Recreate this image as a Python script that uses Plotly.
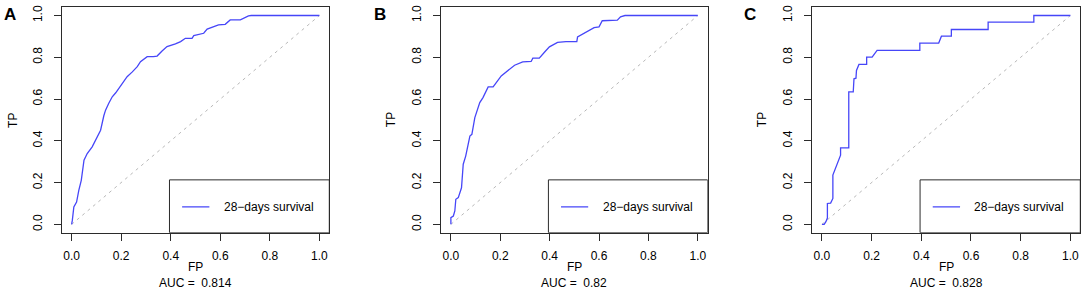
import plotly.graph_objects as go

# ---------------- data ----------------
panel_labels = ["A", "B", "C"]
auc_values = ["0.814", "0.82", "0.828"]
series_name = "28\u2212days survival"
tick_vals = [0.0, 0.2, 0.4, 0.6, 0.8, 1.0]
tick_text = ["0.0", "0.2", "0.4", "0.6", "0.8", "1.0"]

fpr_a = [0, 0.003, 0.009, 0.020, 0.029, 0.039, 0.050, 0.063, 0.083, 0.103, 0.117, 0.130,
         0.137, 0.150, 0.164, 0.178, 0.191, 0.205, 0.224, 0.245, 0.265, 0.278, 0.305, 0.330,
         0.345, 0.365, 0.385, 0.419, 0.440, 0.459, 0.486, 0.493, 0.533, 0.547, 0.570, 0.593,
         0.620, 0.627, 0.640, 0.681, 0.714, 0.725, 1.0]
tpr_a = [0, 0.02, 0.083, 0.107, 0.163, 0.211, 0.307, 0.339, 0.371, 0.419, 0.451, 0.52,
         0.547, 0.58, 0.611, 0.63, 0.651, 0.675, 0.707, 0.73, 0.755, 0.779, 0.803, 0.803,
         0.806, 0.83, 0.851, 0.864, 0.875, 0.891, 0.891, 0.904, 0.915, 0.935, 0.945, 0.955,
         0.958, 0.965, 0.979, 0.979, 0.998, 1.0, 1.0]

fpr_b = [0, 0, 0.010, 0.016, 0.020, 0.030, 0.043, 0.050, 0.060, 0.070, 0.077, 0.085, 0.097,
         0.117, 0.130, 0.151, 0.171, 0.204, 0.231, 0.258, 0.291, 0.325, 0.332, 0.358, 0.378,
         0.399, 0.432, 0.466, 0.510, 0.513, 0.580, 0.600, 0.613, 0.674, 0.687, 0.705, 1.0]
tpr_b = [0, 0.032, 0.040, 0.064, 0.120, 0.128, 0.175, 0.288, 0.327, 0.383, 0.423, 0.431, 0.511,
         0.583, 0.607, 0.658, 0.658, 0.711, 0.735, 0.762, 0.778, 0.780, 0.796, 0.796, 0.823,
         0.850, 0.871, 0.875, 0.875, 0.898, 0.942, 0.946, 0.975, 0.978, 0.994, 1.0, 1.0]

fpr_c = [0, 0.009, 0.016, 0.022, 0.022, 0.035, 0.044, 0.044, 0.075, 0.075, 0.108, 0.108,
         0.126, 0.129, 0.137, 0.139, 0.149, 0.180, 0.180, 0.202, 0.222, 0.394, 0.394, 0.470,
         0.481, 0.521, 0.521, 0.669, 0.669, 0.853, 0.853, 1.0]
tpr_c = [0, 0, 0.013, 0.030, 0.100, 0.102, 0.124, 0.236, 0.331, 0.366, 0.366, 0.634,
         0.634, 0.697, 0.700, 0.737, 0.766, 0.766, 0.801, 0.801, 0.833, 0.833, 0.868, 0.868,
         0.901, 0.901, 0.933, 0.933, 0.968, 0.968, 1.0, 1.0]

fprs = [fpr_a, fpr_b, fpr_c]
tprs = [tpr_a, tpr_b, tpr_c]

# ---------------- layout geometry (pixels) ----------------
W, H = 1084, 292
x_domains_px = [(61.7, 329.3), (441.0, 707.7), (812.0, 1080.3)]
y_domain_px = (232.3, 5.2)
letter_pos_px = [(10.3, 13.0), (380.2, 12.5), (750.3, 12.5)]
tp_x_px = [12.7, 391.0, 762.0]
axis_range = [-0.04, 1.04]
legend_box = dict(x0=0.395, x1=1.04, y0=-0.04, y1=0.213)
legend_line = dict(x0=0.446, x1=0.556, y=0.084)
legend_text_x = 0.606

CURVE = "#4646f8"
AXC = "#2b2b2b"
FONT = "Liberation Sans, Arial, Helvetica, sans-serif"

fig = go.Figure()
layout = dict(
    width=W, height=H, margin=dict(l=0, r=0, t=0, b=0),
    paper_bgcolor="white", plot_bgcolor="white", showlegend=False,
    font=dict(family=FONT, size=12, color="black"),
)
shapes = []
annotations = []

for i in range(3):
    sx = "" if i == 0 else str(i + 1)
    xa, ya = "x" + sx, "y" + sx
    # diagonal reference
    fig.add_trace(go.Scatter(x=[0, 1], y=[0, 1], mode="lines", xaxis=xa, yaxis=ya,
                             line=dict(color="#b8b8b8", width=1, dash="3px,4px"),
                             hoverinfo="skip"))
    fig.add_trace(go.Scatter(x=fprs[i], y=tprs[i], mode="lines", xaxis=xa, yaxis=ya,
                             name=series_name, line=dict(color=CURVE, width=1.3)))
    d0, d1 = x_domains_px[i]
    common = dict(range=axis_range, showgrid=False, zeroline=False, showline=True,
                  linecolor=AXC, linewidth=1, mirror=True, ticks="outside", ticklen=7,
                  tickwidth=1, tickcolor=AXC, tickvals=tick_vals, ticktext=tick_text,
                  tickfont=dict(family=FONT, size=12, color="black"), fixedrange=True)
    layout["xaxis" + sx] = dict(common, domain=[d0 / W, d1 / W], anchor=ya,
                                ticklabelstandoff=5)
    layout["yaxis" + sx] = dict(common, domain=[1 - y_domain_px[0] / H, 1 - y_domain_px[1] / H],
                                anchor=xa, tickangle=-90, ticklabelstandoff=7)
    # legend box
    shapes.append(dict(type="rect", xref=xa, yref=ya, x0=legend_box["x0"], x1=legend_box["x1"],
                       y0=legend_box["y0"], y1=legend_box["y1"],
                       line=dict(color=AXC, width=1), fillcolor="rgba(0,0,0,0)"))
    shapes.append(dict(type="line", xref=xa, yref=ya, x0=legend_line["x0"], x1=legend_line["x1"],
                       y0=legend_line["y"], y1=legend_line["y"], line=dict(color=CURVE, width=1.3)))
    annotations.append(dict(xref=xa, yref=ya, x=legend_text_x, y=legend_line["y"],
                            text=series_name, showarrow=False, xanchor="left", yanchor="middle",
                            font=dict(size=12, color="black")))
    # axis titles
    xa0 = d0 + (0 - axis_range[0]) / (axis_range[1] - axis_range[0]) * (d1 - d0)
    xa1 = d0 + (1 - axis_range[0]) / (axis_range[1] - axis_range[0]) * (d1 - d0)
    cx = (xa0 + xa1) / 2
    annotations.append(dict(xref="paper", yref="paper", x=cx / W, y=1 - 267.0 / H, text="FP",
                            showarrow=False, xanchor="center", yanchor="middle",
                            font=dict(size=12, color="black")))
    annotations.append(dict(xref="paper", yref="paper", x=cx / W, y=1 - 283.3 / H,
                            text="AUC = \u00a0" + auc_values[i],
                            showarrow=False, xanchor="center", yanchor="middle",
                            font=dict(size=12, color="black")))
    annotations.append(dict(xref="paper", yref="paper", x=tp_x_px[i] / W, y=1 - 119.0 / H,
                            text="TP", textangle=-90, showarrow=False, xanchor="center",
                            yanchor="middle", font=dict(size=12, color="black")))
    lx, ly = letter_pos_px[i]
    annotations.append(dict(xref="paper", yref="paper", x=lx / W, y=1 - ly / H,
                            text="<b>" + panel_labels[i] + "</b>", showarrow=False,
                            xanchor="center", yanchor="middle",
                            font=dict(size=17, color="black")))

layout["shapes"] = shapes
layout["annotations"] = annotations
fig.update_layout(**layout)
fig.write_html("out.html", config={"displayModeBar": False},
               post_script="document.body.style.margin='0px';document.body.style.overflow='hidden';")
